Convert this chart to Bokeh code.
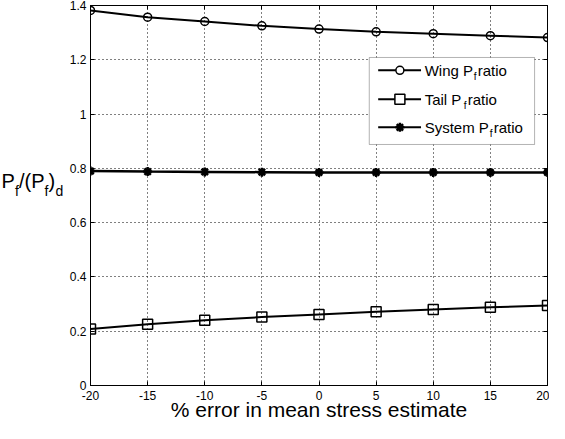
from bokeh.plotting import figure
from bokeh.models import (LinearAxis, Range1d, FixedTicker, CustomJSTickFormatter,
                          Label, BoxAnnotation)
from bokeh.layouts import row
from bokeh.core.properties import value
from bokeh.embed import file_html
from bokeh.resources import INLINE

x_err = [-20, -15, -10, -5, 0, 5, 10, 15, 20]
wing = [1.382, 1.357, 1.341, 1.325, 1.313, 1.303, 1.296, 1.289, 1.282]
tail = [0.208, 0.226, 0.240, 0.252, 0.262, 0.272, 0.280, 0.288, 0.295]
system = [0.790, 0.788, 0.787, 0.786, 0.785, 0.785, 0.785, 0.785, 0.785]
series_names = ["Wing P", "Tail P", "System P"]
x_ticks = [-20, -15, -10, -5, 0, 5, 10, 15, 20]
y_ticks = [0, 0.2, 0.4, 0.6, 0.8, 1.0, 1.2, 1.4]
x_label = "% error in mean stress estimate"

FONT = "Liberation Sans"
H_TOP = 5
H_BOT = 38
ROW_H = 423

# ---------------- main plot ----------------
p = figure(width=483, height=ROW_H, output_backend="svg", toolbar_location=None,
           x_range=Range1d(-20, 20), y_range=Range1d(0, 1.4),
           min_border_left=22, min_border_right=2, min_border_top=H_TOP,
           min_border_bottom=H_BOT)
p.background_fill_color = "white"
p.border_fill_color = "white"
p.outline_line_color = "black"

for ax in (p.xaxis[0], p.yaxis[0]):
    ax.major_tick_in = 4
    ax.major_tick_out = 0
    ax.minor_tick_line_color = None
    ax.axis_line_color = "black"
    ax.major_tick_line_color = "black"
    ax.major_label_text_font = FONT
    ax.major_label_text_font_size = "12px"
    ax.major_label_text_color = "black"
p.xaxis[0].ticker = FixedTicker(ticks=x_ticks)
p.yaxis[0].ticker = FixedTicker(ticks=y_ticks)
p.xaxis[0].formatter = CustomJSTickFormatter(code="return String(Math.round(tick))")
p.yaxis[0].formatter = CustomJSTickFormatter(code="return tick.toFixed(1).replace(/\\.0$/, '')")
p.xaxis[0].major_label_standoff = 5
p.yaxis[0].major_label_standoff = 4
p.xaxis[0].axis_label = x_label
p.xaxis[0].axis_label_text_font = FONT
p.xaxis[0].axis_label_text_font_size = "21px"
p.xaxis[0].axis_label_text_font_style = "normal"
p.xaxis[0].axis_label_text_color = "black"
p.xaxis[0].axis_label_standoff = -5

for loc, tk in (("above", x_ticks), ("right", y_ticks)):
    a = LinearAxis(ticker=FixedTicker(ticks=tk),
                   formatter=CustomJSTickFormatter(code="return ''"),
                   major_tick_in=4, major_tick_out=0, minor_tick_line_color=None,
                   major_label_standoff=0, major_label_text_font_size="0px",
                   axis_line_color="black")
    p.add_layout(a, loc)

p.xgrid.ticker = FixedTicker(ticks=x_ticks)
p.ygrid.ticker = FixedTicker(ticks=y_ticks)
for g in (p.xgrid[0], p.ygrid[0]):
    g.grid_line_color = "black"
    g.grid_line_dash = "1 3"
    g.grid_line_width = 1
    g.grid_line_alpha = 1

# series
p.line(x_err, wing, line_color="black", line_width=2)
p.scatter(x_err, wing, marker="circle", size=8, fill_alpha=0,
          line_color="black", line_width=1.5)
p.line(x_err, tail, line_color="black", line_width=2)
p.scatter(x_err, tail, marker="square", size=10, fill_alpha=0,
          line_color="black", line_width=1.5)
p.line(x_err, system, line_color="black", line_width=2.5)
p.scatter(x_err, system, marker="asterisk", size=9, line_color="black", line_width=2.5)
p.scatter(x_err, system, marker="circle", size=5, fill_color="black", line_color="black")

# legend (manual, to allow subscripts)
p.add_layout(BoxAnnotation(left=4.40, right=18.87, top=1.2085, bottom=0.888,
                           fill_color="white", fill_alpha=1, line_color="black",
                           line_width=1, level="annotation"))
leg_y = [1.161, 1.055, 0.951]
leg_marker = ["circle", "square", "asterisk"]
leg_w = [48, 38, 64]
for yy, mk, nm, w in zip(leg_y, leg_marker, series_names, leg_w):
    p.line([5.18, 8.93], [yy, yy], line_color="black", line_width=2, level="overlay")
    if mk == "asterisk":
        p.scatter([7.08], [yy], marker="asterisk", size=9, line_color="black",
                  line_width=2.5, level="overlay")
        p.scatter([7.08], [yy], marker="circle", size=5, fill_color="black",
                  line_color="black", level="overlay")
    else:
        p.scatter([7.08], [yy], marker=mk, size=8 if mk == "circle" else 10,
                  fill_color="white", line_color="black", line_width=1.5, level="overlay")
    p.add_layout(Label(x=9.25, y=yy, text=nm, text_font=FONT, text_font_size="15px",
                       text_color="black", text_baseline="middle", level="overlay"))
    p.add_layout(Label(x=9.25, y=yy, x_offset=w + 1, y_offset=-6, text="f", text_font=FONT,
                       text_font_size="10px", text_color="black", text_baseline="middle",
                       level="overlay"))
    p.add_layout(Label(x=9.25, y=yy, x_offset=w + 5, text=" ratio", text_font=FONT,
                       text_font_size="15px", text_color="black", text_baseline="middle",
                       level="overlay"))

# ---------------- y label panel ----------------
yl = figure(width=66, height=ROW_H, output_backend="svg", toolbar_location=None,
            x_range=Range1d(0, 66), y_range=Range1d(0, 1.4),
            x_axis_location=None, y_axis_location=None,
            min_border_left=0, min_border_right=0, min_border_top=H_TOP,
            min_border_bottom=H_BOT)
yl.grid.visible = False
yl.outline_line_color = None
yb, ys = 0.752, 0.715
yl.text(x=[1, 18.5, 48], y=[yb, yb, yb], text=["P", "/(P", ")"],
        text_font=value(FONT), text_font_size="20px", text_color="black",
        text_baseline="alphabetic")
yl.text(x=[14.5, 44, 55], y=[ys, ys, ys], text=["f", "f", "d"],
        text_font=value(FONT), text_font_size="14px", text_color="black",
        text_baseline="alphabetic")

layout = row(yl, p, spacing=0)
open("out.html", "w").write(file_html(layout, INLINE))
